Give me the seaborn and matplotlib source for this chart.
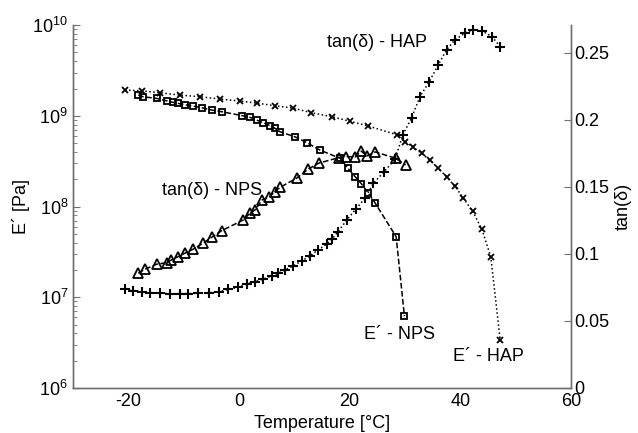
import numpy as np
import pandas as pd
import seaborn as sns
import matplotlib.pyplot as plt
from matplotlib.ticker import LogLocator, NullFormatter

# Storage modulus E' (Pa), HAP
temp_e_hap = [-20.6, -17.6, -14.3, -10.7, -7.0, -3.4, 0.2, 3.2, 6.5, 9.8, 13.1, 16.8,
              20.1, 23.4, 28.5, 30.0, 31.5, 33.0, 34.5, 36.0, 37.5, 39.0, 40.5, 42.2,
              43.9, 45.5, 47.2]
logE_hap = [9.284, 9.276, 9.254, 9.229, 9.210, 9.185, 9.163, 9.140, 9.111, 9.085, 9.034,
            8.990, 8.939, 8.887, 8.792, 8.714, 8.652, 8.586, 8.512, 8.421, 8.328, 8.226,
            8.097, 7.950, 7.749, 7.447, 6.529]

# Storage modulus E' (Pa), NPS
temp_e_nps = [-18.2, -17.3, -14.9, -13.1, -11.9, -11.0, -9.8, -8.3, -6.7, -4.9, -3.1, 0.5,
              2.0, 3.2, 4.4, 5.6, 6.5, 7.4, 10.1, 12.3, 14.6, 18.3, 19.7, 21.0, 22.1, 23.3,
              24.6, 28.4, 29.9]
logE_nps = [9.229, 9.210, 9.192, 9.166, 9.148, 9.137, 9.122, 9.107, 9.089, 9.063, 9.045,
            9.003, 8.983, 8.953, 8.923, 8.891, 8.862, 8.825, 8.769, 8.703, 8.623, 8.531,
            8.421, 8.328, 8.253, 8.154, 8.039, 7.667, 6.790]

# tan(delta), HAP
temp_tan_hap = [-20.6, -19.1, -17.6, -16.1, -14.3, -12.5, -10.7, -9.2, -7.4, -5.5, -3.7,
                -1.9, -0.1, 1.4, 2.9, 4.4, 5.9, 7.1, 8.3, 9.8, 11.3, 12.8, 14.3, 15.9, 16.8,
                17.9, 19.5, 21.1, 22.8, 24.3, 26.2, 28.2, 29.6, 31.2, 32.7, 34.4, 36.0,
                37.5, 39.0, 40.8, 42.3, 43.9, 45.7, 47.2]
tan_hap = [0.0737, 0.0726, 0.0719, 0.0711, 0.0707, 0.0704, 0.0704, 0.0704, 0.0707, 0.0711,
           0.0716, 0.0737, 0.0750, 0.0776, 0.0793, 0.0813, 0.0836, 0.0856, 0.0881, 0.0910,
           0.0948, 0.0985, 0.1030, 0.1075, 0.1110, 0.1166, 0.1254, 0.1334, 0.1416, 0.1528,
           0.1612, 0.1707, 0.1888, 0.2015, 0.2174, 0.2286, 0.2410, 0.2522, 0.2597, 0.2647,
           0.2672, 0.2664, 0.2622, 0.2547]

# tan(delta), NPS
temp_tan_nps = [-18.2, -17.0, -14.9, -13.1, -12.2, -11.0, -9.8, -8.3, -6.5, -4.9, -3.1, 0.8,
                2.0, 2.9, 4.2, 5.4, 6.5, 7.4, 10.4, 12.5, 14.4, 18.1, 19.3, 21.0, 22.1, 23.1,
                24.6, 28.3, 30.1]
tan_nps = [0.0856, 0.0886, 0.0923, 0.0935, 0.0955, 0.0980, 0.1005, 0.1035, 0.1080, 0.1125,
           0.1174, 0.1254, 0.1304, 0.1328, 0.1403, 0.1422, 0.1465, 0.1496, 0.1565, 0.1632,
           0.1677, 0.1719, 0.1726, 0.1724, 0.1767, 0.1731, 0.1761, 0.1714, 0.1664]

x_ticks = [-20, 0, 20, 40, 60]
tan_ticks = [0, 0.05, 0.1, 0.15, 0.2, 0.25]
tan_tick_labels = ['0', '0.05', '0.1', '0.15', '0.2', '0.25']

sns.set_style('white')
plt.rcParams['font.family'] = ['Liberation Sans', 'DejaVu Sans']
plt.rcParams['mathtext.default'] = 'regular'
plt.rcParams['axes.unicode_minus'] = False
plt.rcParams['text.color'] = 'k'
plt.rcParams['axes.labelcolor'] = 'k'
plt.rcParams['font.size'] = 13

fig = plt.figure(figsize=(6.38, 4.33), dpi=100)
ax = fig.add_axes([0.1144, 0.104, 0.7806, 0.838])
ax2 = ax.twinx()

common = dict(color='k', markerfacecolor='none', markeredgecolor='k', linewidth=1.1)

sns.lineplot(x=temp_e_hap, y=np.power(10.0, logE_hap), ax=ax, marker='x', linestyle=':',
             markersize=4.5, markeredgewidth=1.3, **common)
sns.lineplot(x=temp_e_nps, y=np.power(10.0, logE_nps), ax=ax, marker='s', linestyle='--',
             markersize=4.6, markeredgewidth=1.3, **common)
sns.lineplot(x=temp_tan_hap, y=tan_hap, ax=ax2, marker='+', linestyle=':',
             markersize=6.5, markeredgewidth=1.5, **common)
sns.lineplot(x=temp_tan_nps, y=tan_nps, ax=ax2, marker='^', linestyle='--',
             markersize=7, markeredgewidth=1.3, **common)

ax.set_yscale('log')
ax.set_ylim(1e6, 1e10)
ax.set_xlim(-30, 60)
ax.set_xticks(x_ticks)
ax.yaxis.set_minor_locator(LogLocator(base=10, subs=np.arange(2, 10)))
ax.yaxis.set_minor_formatter(NullFormatter())
ax2.set_ylim(0, 0.2707)
ax2.set_yticks(tan_ticks)
ax2.set_yticklabels(tan_tick_labels)

ax.set_xlabel('Temperature [°C]', fontsize=13, labelpad=4)
ax.set_ylabel('E´ [Pa]', fontsize=13, labelpad=2)
ax2.set_ylabel('tan(δ)', fontsize=13, labelpad=4)

for a in (ax, ax2):
    a.spines['top'].set_visible(False)
    for s in ('left', 'right', 'bottom'):
        a.spines[s].set_color('#707070')
        a.spines[s].set_linewidth(1.0)
    a.tick_params(which='both', direction='in', colors='#707070', labelcolor='k', labelsize=13)
    a.tick_params(which='major', length=5)
    a.tick_params(which='minor', length=3)
    a.grid(False)
ax2.tick_params(axis='y', pad=2)

ax.text(15.9, 10 ** 9.81, 'tan(δ) - HAP', fontsize=13, ha='left', va='center', color='k')
ax.text(-13.9, 10 ** 8.18, 'tan(δ) - NPS', fontsize=13, ha='left', va='center', color='k')
ax.text(22.5, 10 ** 6.584, 'E´ - NPS', fontsize=13, ha='left', va='center', color='k')
ax.text(38.7, 10 ** 6.345, 'E´ - HAP', fontsize=13, ha='left', va='center', color='k')

fig.savefig('out.png', dpi=100)
